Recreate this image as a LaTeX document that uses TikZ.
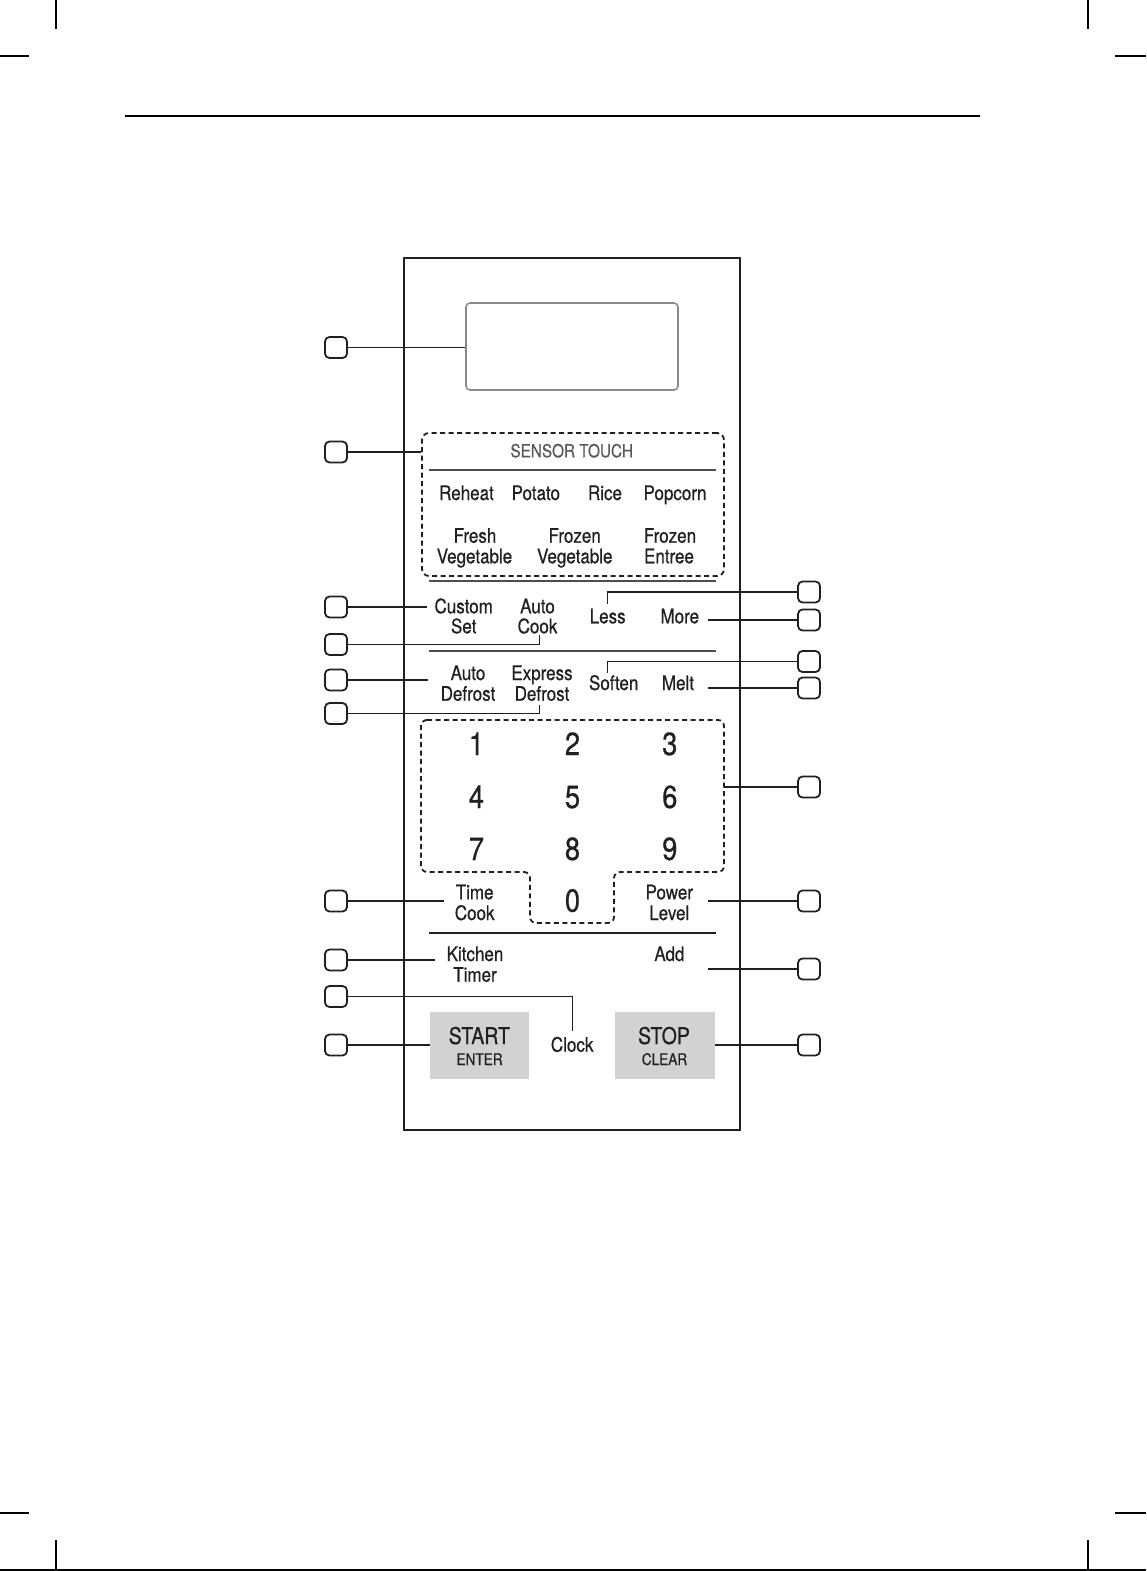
\documentclass[tikz,border=0pt]{standalone}
\usepackage{fontspec}
\setmainfont{TeX Gyre Heros}[FakeStretch=0.85,FakeBold=0.6]
\definecolor{ink}{HTML}{231F20}
\definecolor{sepc}{HTML}{4D4D4F}
\definecolor{btn}{HTML}{D1D2D4}
\definecolor{dispc}{HTML}{8A8A8A}
\definecolor{graytext}{HTML}{58595B}
\begin{document}
\begin{tikzpicture}[x=1pt,y=-1pt,
  callout/.style={draw=ink, line width=1.8pt, rounded corners=4.5pt, minimum width=22pt, minimum height=21pt, inner sep=0pt},
  leader/.style={draw=ink, line width=1.2pt},
  lbl/.style={anchor=base, inner sep=0pt, text=ink, font=\fontsize{20}{22}\selectfont},
  digit/.style={anchor=base, inner sep=0pt, text=ink, font=\fontsize{32}{34}\selectfont},
  big/.style={anchor=base, inner sep=0pt, text=ink, font=\fontsize{23}{25}\selectfont},
  small/.style={anchor=base, inner sep=0pt, text=ink, font=\fontsize{16}{18}\selectfont},
  dashbox/.style={draw=ink, line width=1.8pt, dash pattern=on 5pt off 3.5pt},
  sepline/.style={draw=sepc, line width=2pt},
  crop/.style={draw=black, line width=1.3pt}]
\useasboundingbox (0,0) rectangle (1146,1571);
% crop marks and page rules
\draw[crop] (56,0) -- (56,29);
\draw[crop] (0,56) -- (29,56);
\draw[crop] (1088,0) -- (1088,29);
\draw[crop] (1115,56) -- (1146,56);
\draw[crop] (0,1513) -- (29,1513);
\draw[crop] (56,1540) -- (56,1571);
\draw[crop] (1115,1513) -- (1146,1513);
\draw[crop] (1088,1540) -- (1088,1571);
\draw[crop] (125,116) -- (980,116);
\draw[crop] (0,1570) -- (1146,1570);
% panel
\node[draw=ink, line width=1.6pt, minimum width=336pt, minimum height=872pt, inner sep=0pt] (panel) at (572,694) {};
\node[draw=dispc, line width=1.6pt, rounded corners=4pt, minimum width=212pt, minimum height=87pt, inner sep=0pt] (display) at (572,346.5) {};
\node[dashbox, rounded corners=7pt, minimum width=302pt, minimum height=143pt, inner sep=0pt] (sensor) at (573,504.5) {};
\draw[dashbox, rounded corners=6pt] (421,720) -- (724,720) -- (724,872) -- (614,872) -- (614,923) -- (530,923) -- (530,872) -- (421,872) -- cycle;
\coordinate (padE) at (724,787);
\node[fill=btn, minimum width=99.5pt, minimum height=67pt, inner sep=0pt] (start) at (479.7,1045.5) {};
\node[fill=btn, minimum width=99.8pt, minimum height=67pt, inner sep=0pt] (stop) at (664.7,1045.5) {};
% separators
\draw[sepline] (429,470) -- (716,470);
\draw[sepline] (429,581) -- (716,581);
\draw[sepline] (429,651) -- (716,651);
\draw[draw=ink, line width=2pt] (429,933) -- (716,933);
% texts
\node[anchor=base, inner sep=0pt, text=graytext, font=\fontsize{18}{20}\selectfont] (sensorT) at (571.7,457.3) {SENSOR TOUCH};
\node[lbl] (reheat) at (466.5,500) {Reheat};
\node[lbl] (potato) at (535.8,500) {Potato};
\node[lbl] (rice) at (605,500) {Rice};
\node[lbl] (popcorn) at (675,500) {Popcorn};
\node[lbl] (fresh1) at (475,542.7) {Fresh};
\node[lbl] (fresh2) at (474.5,563.3) {Vegetable};
\node[lbl] (frozv1) at (574.7,542.7) {Frozen};
\node[lbl] (frozv2) at (574.8,563.3) {Vegetable};
\node[lbl] (froze1) at (670,542.7) {Frozen};
\node[lbl] (froze2) at (669,563.3) {Entree};
\node[lbl] (custom1) at (463.7,613.3) {Custom};
\node[lbl] (custom2) at (463.7,633.3) {Set};
\node[lbl] (autoc1) at (537.5,613.3) {Auto};
\node[lbl] (autoc2) at (537.5,633.3) {Cook};
\node[lbl] (less) at (607.7,623.3) {Less};
\node[lbl] (more) at (679.8,623.3) {More};
\node[lbl] (autod1) at (468,680) {Auto};
\node[lbl] (autod2) at (468,700.7) {Defrost};
\node[lbl] (expd1) at (542,680) {Express};
\node[lbl] (expd2) at (542,700.7) {Defrost};
\node[lbl] (soften) at (613.7,690) {Soften};
\node[lbl] (melt) at (678,690) {Melt};
\node[digit] (d1) at (476.5,755) {1};
\node[digit] (d2) at (572.5,755) {2};
\node[digit] (d3) at (669.8,755) {3};
\node[digit] (d4) at (476.5,808) {4};
\node[digit] (d5) at (572.5,808) {5};
\node[digit] (d6) at (669.8,808) {6};
\node[digit] (d7) at (476.5,860) {7};
\node[digit] (d8) at (572.5,860) {8};
\node[digit] (d9) at (669.8,860) {9};
\node[digit] (d0) at (572.5,911.7) {0};
\node[lbl] (time1) at (474.7,899.3) {Time};
\node[lbl] (time2) at (474.7,920) {Cook};
\node[lbl] (power1) at (669.3,899.3) {Power};
\node[lbl] (power2) at (669.3,920) {Level};
\node[lbl] (kitchen1) at (475,961) {Kitchen};
\node[lbl] (kitchen2) at (475,981.7) {Timer};
\node[lbl] (add) at (669.4,961) {Add};
\node[lbl] (clock) at (572.2,1051.7) {Clock};
\node[big] (startT) at (479.3,1044) {START};
\node[small] (enterT) at (479.6,1065) {ENTER};
\node[big] (stopT) at (664,1044) {STOP};
\node[small] (clearT) at (664.5,1065) {CLEAR};
% callouts left
\node[callout] (L1) at (336,347.5) {};
\node[callout] (L2) at (336,452) {};
\node[callout] (L3) at (336,607) {};
\node[callout] (L4) at (336,644.5) {};
\node[callout] (L5) at (336,680) {};
\node[callout] (L6) at (336,713.5) {};
\node[callout] (L7) at (336,901) {};
\node[callout] (L8) at (336,960) {};
\node[callout] (L9) at (336,996.5) {};
\node[callout] (L10) at (336,1045) {};
% callouts right
\node[callout] (R1) at (809,592) {};
\node[callout] (R2) at (809,620) {};
\node[callout] (R3) at (809,661.5) {};
\node[callout] (R4) at (809,688) {};
\node[callout] (R5) at (809,787) {};
\node[callout] (R6) at (809,901) {};
\node[callout] (R7) at (809,969) {};
\node[callout] (R8) at (809,1045) {};
% leader end points
\coordinate (eCustom) at (427,607);
\coordinate (eAutoCook) at (539.4,635);
\coordinate (eAutoDef) at (428,680);
\coordinate (eExpress) at (539.4,705);
\coordinate (eTime) at (443.7,901);
\coordinate (eKitchen) at (435,960);
\coordinate (eClock) at (572.7,1031);
\coordinate (eLess) at (607.7,603.5);
\coordinate (eMore) at (707.6,620);
\coordinate (eSoften) at (607.7,672.5);
\coordinate (eMelt) at (707.6,688);
\coordinate (ePower) at (707.6,901);
\coordinate (eAdd) at (707.6,969);
% leaders left
\draw[leader] (L1.east) -- (L1.east -| display.west);
\draw[leader] (L2.east) -- (L2.east -| sensor.west);
\draw[leader] (L3.east) -- (eCustom);
\draw[leader] (L4.east) -| (eAutoCook);
\draw[leader] (L5.east) -- (eAutoDef);
\draw[leader] (L6.east) -| (eExpress);
\draw[leader] (L7.east) -- (eTime);
\draw[leader] (L8.east) -- (eKitchen);
\draw[leader] (L9.east) -| (eClock);
\draw[leader] (L10.east) -- (L10.east -| start.west);
% leaders right
\draw[leader] (R1.west) -| (eLess);
\draw[leader] (R2.west) -- (eMore);
\draw[leader] (R3.west) -| (eSoften);
\draw[leader] (R4.west) -- (eMelt);
\draw[leader] (R5.west) -- (padE);
\draw[leader] (R6.west) -- (ePower);
\draw[leader] (R7.west) -- (eAdd);
\draw[leader] (R8.west) -- (R8.west -| stop.east);
\end{tikzpicture}
\end{document}
